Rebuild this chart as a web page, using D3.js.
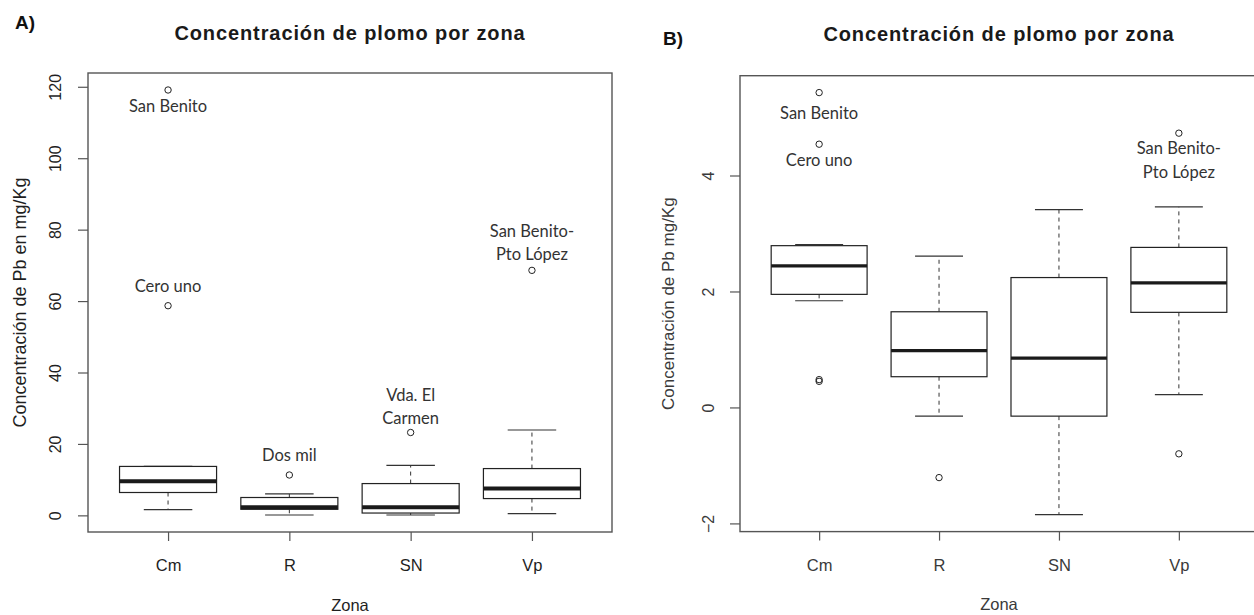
<!DOCTYPE html>
<html>
<head>
<meta charset="utf-8">
<script src="https://cdn.jsdelivr.net/npm/d3@7"></script>
<style>
  body { margin: 0; background: #fff; }
  text { font-family: "Liberation Sans", Arial, sans-serif; }
  .lbl { font-family: Lato, "Open Sans", sans-serif; }
</style>
</head>
<body>
<script>
"use strict";

// zonas muestreadas
var zonas = ["Cm", "R", "SN", "Vp"];

// A) Concentracion de Pb en mg/Kg (valores leidos del grafico)
var aWhiskLo = [1.6, 0.1, 0.1, 0.5];
var aQ1      = [6.4, 1.7, 0.65, 4.7];
var aMed     = [9.55, 2.25, 2.3, 7.5];
var aQ3      = [13.7, 5.0, 8.9, 13.1];
var aWhiskHi = [13.7, 6.0, 14.0, 23.9];
var aOutZona  = ["Cm", "Cm", "R", "SN", "Vp"];
var aOutValor = [119.1, 58.7, 11.3, 23.2, 68.6];
var aOutTexto = [["San Benito"], ["Cero uno"], ["Dos mil"], ["Vda. El", "Carmen"], ["San Benito-", "Pto López"]];
var aTicks = [0, 20, 40, 60, 80, 100, 120];

// B) Concentracion de Pb mg/Kg (escala transformada)
var bWhiskLo = [1.84, -0.15, -1.85, 0.22];
var bQ1      = [1.95, 0.53, -0.15, 1.64];
var bMed     = [2.44, 0.98, 0.85, 2.15];
var bQ3      = [2.79, 1.65, 2.24, 2.76];
var bWhiskHi = [2.81, 2.61, 3.41, 3.46];
var bOutZona  = ["Cm", "Cm", "Cm", "Cm", "R", "Vp", "Vp"];
var bOutValor = [5.43, 4.54, 0.48, 0.45, -1.21, 4.73, -0.80];
var bOutTexto = [["San Benito"], ["Cero uno"], [], [], [], ["San Benito-", "Pto López"], []];
var bTicks = [-2, 0, 2, 4];

var titulo = "Concentración de plomo por zona";

var svg = d3.select("body").append("svg")
    .attr("width", 1254)
    .attr("height", 615);

function panel(p) {
  var x = d3.scaleLinear()
      .domain([0.34, zonas.length + 0.66])
      .range([p.left, p.right]);

  var all = p.lo.concat(p.hi, p.outVal);
  var ext = d3.extent(all);
  var pad = (ext[1] - ext[0]) * 0.04;
  var y = d3.scaleLinear()
      .domain([ext[0] - pad, ext[1] + pad])
      .range([p.bottom, p.top]);

  var g = svg.append("g");

  // boxes
  zonas.forEach(function(z, i) {
    var cx = x(i + 1);
    var bw = x(1.4) - x(1);   // half box width
    var cw = x(1.2) - x(1);   // half staple width

    // whiskers (dashed)
    g.append("line")
        .attr("x1", cx).attr("x2", cx)
        .attr("y1", y(p.q3[i])).attr("y2", y(p.hi[i]))
        .attr("stroke", "#333").attr("stroke-dasharray", "4,4");
    g.append("line")
        .attr("x1", cx).attr("x2", cx)
        .attr("y1", y(p.q1[i])).attr("y2", y(p.lo[i]))
        .attr("stroke", "#333").attr("stroke-dasharray", "4,4");
    // staples
    [p.lo[i], p.hi[i]].forEach(function(v) {
      g.append("line")
          .attr("x1", cx - cw).attr("x2", cx + cw)
          .attr("y1", y(v)).attr("y2", y(v))
          .attr("stroke", "#333").attr("stroke-width", 1.2);
    });
    // box
    g.append("rect")
        .attr("x", cx - bw).attr("width", 2 * bw)
        .attr("y", y(p.q3[i])).attr("height", y(p.q1[i]) - y(p.q3[i]))
        .attr("fill", "#fff").attr("stroke", "#222").attr("stroke-width", 1.2);
    // median
    g.append("line")
        .attr("x1", cx - bw).attr("x2", cx + bw)
        .attr("y1", y(p.med[i])).attr("y2", y(p.med[i]))
        .attr("stroke", "#1a1a1a").attr("stroke-width", p.medW);
  });

  // outliers + labels
  p.outZona.forEach(function(z, k) {
    var cx = x(zonas.indexOf(z) + 1);
    var cy = y(p.outVal[k]);
    g.append("circle")
        .attr("cx", cx).attr("cy", cy).attr("r", 3.2)
        .attr("fill", "none").attr("stroke", "#222").attr("stroke-width", 1);
    p.outTxt[k].forEach(function(t, j) {
      g.append("text")
          .attr("class", "lbl")
          .attr("x", cx)
          .attr("y", cy + p.lblDy[k] + j * p.lineH + 5.8)
          .attr("text-anchor", "middle")
          .attr("font-size", 16.5)
          .attr("fill", "#333")
          .text(t);
    });
  });

  // frame
  g.append("rect")
      .attr("x", p.left).attr("y", p.top)
      .attr("width", p.right - p.left).attr("height", p.bottom - p.top)
      .attr("fill", "none").attr("stroke", "#555").attr("stroke-width", 1.4);

  // y axis
  var ya = g.append("g")
      .attr("transform", "translate(" + p.left + ",0)")
      .call(d3.axisLeft(y).tickValues(p.ticks).tickSize(10).tickFormat(d3.format("d")));
  ya.select(".domain").remove();
  ya.selectAll("line").attr("stroke", "#555").attr("stroke-width", 1.2);
  ya.selectAll("text")
      .attr("x", 0).attr("dy", 0)
      .attr("transform", "translate(" + (-p.tickLblOff) + ",0) rotate(-90)")
      .attr("text-anchor", "middle")
      .attr("font-size", 16)
      .attr("fill", p.txtCol)
      .style("font-family", "'Liberation Sans', Arial, sans-serif");

  // x axis
  var xa = g.append("g")
      .attr("transform", "translate(0," + p.bottom + ")")
      .call(d3.axisBottom(x).tickValues([1, 2, 3, 4]).tickSize(9)
            .tickFormat(function(d) { return zonas[d - 1]; }));
  xa.select(".domain").remove();
  xa.selectAll("line").attr("stroke", "#555").attr("stroke-width", 1.2);
  xa.selectAll("text")
      .attr("y", 39).attr("dy", 0)
      .attr("font-size", 16.5)
      .attr("fill", p.txtCol)
      .style("font-family", "'Liberation Sans', Arial, sans-serif");

  // axis titles
  svg.append("text")
      .attr("transform", "translate(" + p.yTitleX + "," + ((p.top + p.bottom) / 2) + ") rotate(-90)")
      .attr("text-anchor", "middle")
      .attr("font-size", p.yTitleSize)
      .attr("fill", p.txtCol)
      .text(p.yTitle);

  svg.append("text")
      .attr("x", (p.left + p.right) / 2)
      .attr("y", p.xTitleY)
      .attr("text-anchor", "middle")
      .attr("font-size", 16.5)
      .attr("fill", p.txtCol)
      .text("Zona");

  // main title
  svg.append("text")
      .attr("x", (p.left + p.right) / 2)
      .attr("y", p.titleY)
      .attr("text-anchor", "middle")
      .attr("font-size", 20)
      .attr("font-weight", "bold")
      .attr("letter-spacing", 0.9)
      .attr("fill", "#1a1a1a")
      .text(titulo);

  // panel letter
  svg.append("text")
      .attr("x", p.letterX).attr("y", p.letterY)
      .attr("font-size", 19)
      .attr("font-weight", "bold")
      .attr("fill", "#111")
      .text(p.letter);
}

panel({
  left: 88, right: 612, top: 73, bottom: 532,
  lo: aWhiskLo, q1: aQ1, med: aMed, q3: aQ3, hi: aWhiskHi,
  outZona: aOutZona, outVal: aOutValor, outTxt: aOutTexto,
  lblDy: [16, -20, -20, -37, -39], lineH: 23,
  ticks: aTicks, medW: 4, txtCol: "#1f1f1f",
  tickLblOff: 27, yTitleX: 26, yTitleSize: 18, xTitleY: 611, titleY: 40,
  yTitle: "Concentración de Pb en mg/Kg",
  letter: "A)", letterX: 15, letterY: 29
});

panel({
  left: 740, right: 1258, top: 75.7, bottom: 531.6,
  lo: bWhiskLo, q1: bQ1, med: bMed, q3: bQ3, hi: bWhiskHi,
  outZona: bOutZona, outVal: bOutValor, outTxt: bOutTexto,
  lblDy: [21, 16, 0, 0, 0, 15, 0], lineH: 24,
  ticks: bTicks, medW: 3.2, txtCol: "#3a3a3a",
  tickLblOff: 26, yTitleX: 674, yTitleSize: 17, xTitleY: 610, titleY: 41,
  yTitle: "Concentración de Pb mg/Kg",
  letter: "B)", letterX: 663, letterY: 45
});
</script>
</body>
</html>
